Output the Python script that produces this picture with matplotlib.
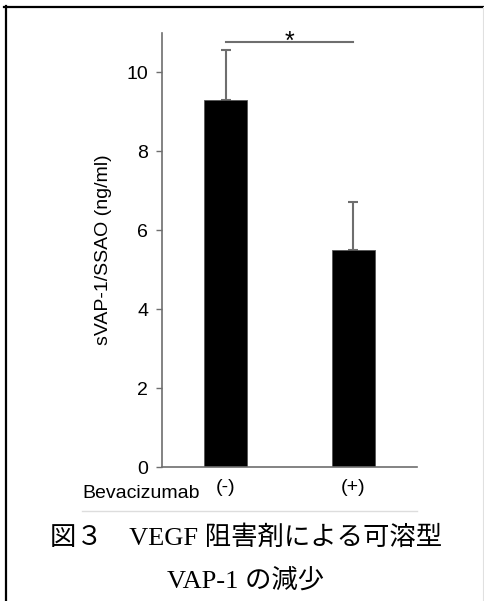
import numpy as np
import matplotlib
matplotlib.use('Agg')
import matplotlib.pyplot as plt
from matplotlib.lines import Line2D

# データ
groups = ['(-)', '(+)']
means = [9.3, 5.5]
sds = [1.26, 1.22]
yticks = [0, 2, 4, 6, 8, 10]
ylabel = 'sVAP-1/SSAO (ng/ml)'
group_title = 'Bevacizumab'
sig_mark = '*'
caption1 = '図３　VEGF 阻害剤による可溶型'
caption2 = 'VAP-1 の減少'

W, H = 484, 601
plt.rcParams['font.family'] = ['Liberation Sans', 'DejaVu Sans']
fig = plt.figure(figsize=(W / 100, H / 100), dpi=100)
fig.patch.set_facecolor('white')

# 軸の位置（ピクセルから）
ax = fig.add_axes([162 / W, 1 - 467 / H, (417 - 162) / W, (467 - 33) / H])
x = np.arange(len(groups))
grey = '#6e6e6e'

ax.bar(x, means, width=0.335, color='black', edgecolor='#555555', linewidth=0.6, zorder=2)
ax.errorbar(x, means, yerr=[np.zeros(len(sds)), sds], fmt='none', ecolor=grey,
            elinewidth=1.5, capsize=3.5, capthick=1.5, zorder=1)

ax.set_xlim(-0.5, 1.5)
ax.set_ylim(0, 11)
ax.set_yticks(yticks)
ax.set_yticklabels([str(t) for t in yticks], fontsize=14)
ax.set_xticks(x)
ax.set_xticklabels(groups, fontsize=14)
ax.tick_params(axis='x', length=0, pad=9)
ax.tick_params(axis='y', length=4, width=1, color=grey, pad=6, direction='out')
for s in ['top', 'right']:
    ax.spines[s].set_visible(False)
for s in ['left', 'bottom']:
    ax.spines[s].set_color(grey)
    ax.spines[s].set_linewidth(1.2)
ax.set_ylabel(ylabel, fontsize=14, labelpad=10)

# 有意差の線
sig_y = 10.76
ax.plot([x[0], x[1]], [sig_y, sig_y], color=grey, linewidth=1.5, clip_on=False)
ax.text((x[0] + x[1]) / 2, sig_y - 0.28, sig_mark, ha='center', va='bottom', fontsize=18,
        clip_on=False)

# Bevacizumab ラベル
fig.text(200 / W, 1 - 493 / H, group_title, ha='right', va='center', fontsize=14)

# 区切り線
fig.add_artist(Line2D([82 / W, 417 / W], [1 - 510.5 / H, 1 - 510.5 / H], color='#dddddd', linewidth=1))

# キャプション
cap_font = ['Liberation Serif', 'Noto Sans CJK JP']
fig.text(246 / W, 1 - 538 / H, caption1, ha='center', va='center', fontsize=19, family=cap_font)
fig.text(246 / W, 1 - 580 / H, caption2, ha='center', va='center', fontsize=19, family=cap_font)

# 枠線
fig.add_artist(Line2D([4 / W, 1], [1 - 6.5 / H, 1 - 6.5 / H], color='black', linewidth=1.6))
fig.add_artist(Line2D([5.5 / W, 5.5 / W], [0, 1 - 6 / H], color='black', linewidth=1.6))
fig.add_artist(Line2D([483 / W, 483 / W], [0, 1 - 7 / H], color='#e0e0e0', linewidth=0.8))

fig.savefig('out.png', dpi=100)
